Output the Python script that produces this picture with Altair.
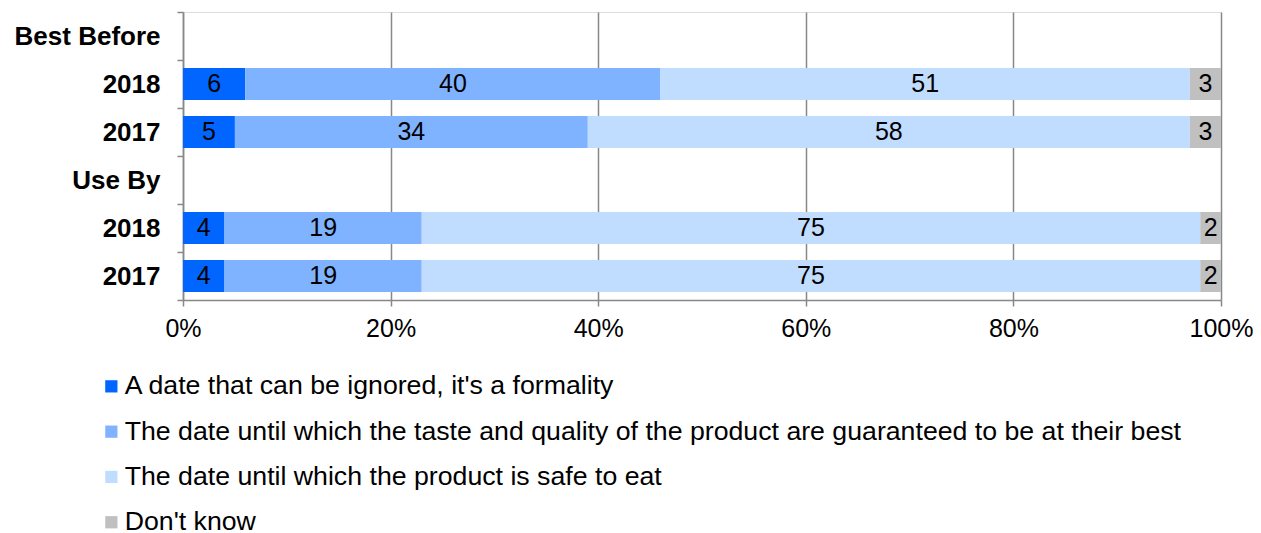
import altair as alt
import pandas as pd

rows = ["Best Before", "BB 2018", "BB 2017", "Use By", "UB 2018", "UB 2017"]
series = [
    "A date that can be ignored, it's a formality",
    "The date until which the taste and quality of the product are guaranteed to be at their best",
    "The date until which the product is safe to eat",
    "Don't know",
]
colors = ["#0066FF", "#80B3FF", "#C0DCFF", "#C0C0C0"]

bar_rows = ["BB 2018", "BB 2017", "UB 2018", "UB 2017"]
ignored = [6, 5, 4, 4]
taste = [40, 34, 19, 19]
safe = [51, 58, 75, 75]
dont_know = [3, 3, 2, 2]

recs = []
for i, r in enumerate(bar_rows):
    for k, (s, v) in enumerate(zip(series, [ignored[i], taste[i], safe[i], dont_know[i]])):
        recs.append({"row": r, "series": s, "value": v, "order": k})
df = pd.DataFrame(recs)

FONT = "Liberation Sans"

base = alt.Chart(df).transform_stack(
    stack="value", groupby=["row"], as_=["x0", "x1"],
    sort=[alt.SortField("order", order="ascending")]
).transform_calculate(mid="(datum.x0 + datum.x1) / 2")

y_enc = alt.Y(
    "row:N",
    scale=alt.Scale(domain=rows, paddingInner=0, paddingOuter=0),
    axis=alt.Axis(
        title=None,
        labelExpr="isValid(datum.value) ? replace(replace(datum.value, 'BB ', ''), 'UB ', '') : ''",
        labelFont=FONT, labelFontSize=26, labelFontWeight="bold", labelColor="#000000",
        labelPadding=17, tickSize=6, tickBand="extent", tickColor="#888888",
        domainColor="#888888", domainWidth=1.5, tickWidth=1.5, grid=False,
    ),
)

bars = base.mark_bar(height=32).encode(
    x=alt.X(
        "x0:Q",
        scale=alt.Scale(domain=[0, 100], nice=False),
        axis=alt.Axis(
            title=None, values=[0, 20, 40, 60, 80, 100],
            labelExpr="datum.value + '%'", labelFlush=False,
            labelFont=FONT, labelFontSize=25, labelColor="#000000",
            labelPadding=10, tickSize=6, tickColor="#888888", tickWidth=1.5,
            domainColor="#888888", domainWidth=1.5,
            grid=True, gridColor="#888888", gridWidth=1.5,
        ),
    ),
    x2="x1:Q",
    y=y_enc,
    color=alt.Color(
        "series:N",
        scale=alt.Scale(domain=series, range=colors),
        legend=alt.Legend(
            title=None, orient="none", legendX=-85, legendY=361, direction="vertical",
            symbolType="square", symbolSize=150, symbolStrokeWidth=0,
            labelFont=FONT, labelFontSize=26.7, labelColor="#000000",
            labelLimit=0, rowPadding=17.3, labelOffset=0, padding=0,
        ),
    ),
)

labels = base.mark_text(font=FONT, fontSize=25, color="#000000").encode(
    x="mid:Q",
    y=alt.Y("row:N", scale=alt.Scale(domain=rows, paddingInner=0, paddingOuter=0)),
    text="value:Q",
)

chart = (bars + labels).properties(
    width=1038, height=288,
    autosize=alt.AutoSizeParams(type="none"),
    padding={"left": 175, "top": 4, "right": 32, "bottom": 236},
).configure_view(stroke=None).configure(background="#ffffff")

chart.save("out.html", embed_options={"renderer": "svg", "actions": False})
